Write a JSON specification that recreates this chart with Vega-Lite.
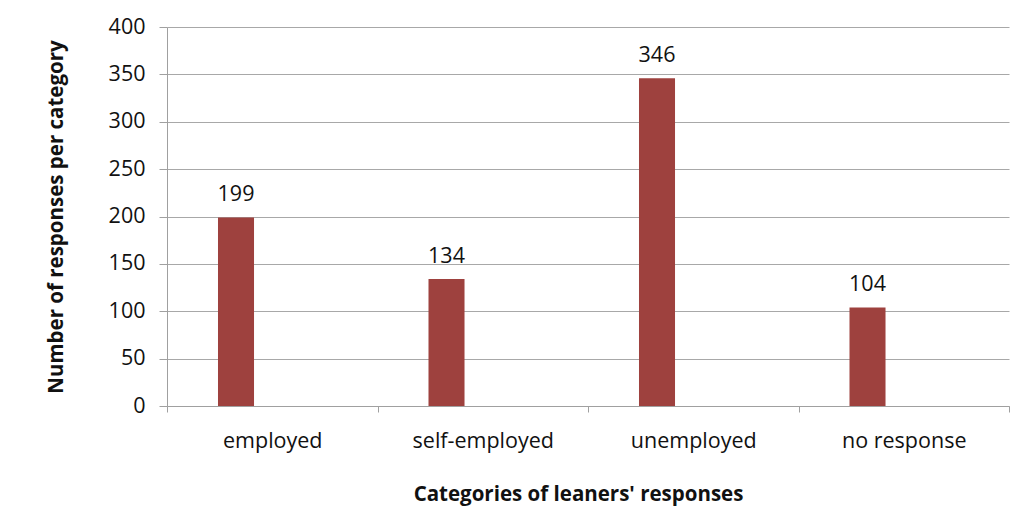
{
  "$schema": "https://vega.github.io/schema/vega-lite/v6.json",
  "width": 842,
  "height": 379,
  "autosize": {"type": "none"},
  "padding": {"left": 167, "top": 27, "right": 16, "bottom": 113},
  "background": "white",
  "data": {"values": [
    {"category": "employed", "count": 199, "series": "responses"},
    {"category": "self-employed", "count": 134, "series": "responses"},
    {"category": "unemployed", "count": 346, "series": "responses"},
    {"category": "no response", "count": 104, "series": "responses"}
  ]},
  "encoding": {
    "x": {
      "field": "category", "type": "nominal", "sort": null,
      "scale": {"paddingInner": 0, "paddingOuter": 0},
      "axis": {
        "title": "Categories of leaners' responses",
        "labelAngle": 0, "labelFont": "Open Sans", "labelFontSize": 21.5, "labelColor": "#111",
        "labelPadding": 18, "tickBand": "extent", "tickSize": 6, "tickColor": "#a0a0a0",
        "domainColor": "#a0a0a0", "titleFont": "Open Sans", "titleFontSize": 20.5, "titleFontWeight": "bold",
        "titleColor": "#111", "titlePadding": 33, "titleX": 411
      }
    },
    "xOffset": {
      "field": "series", "type": "nominal",
      "scale": {"domain": ["responses", "other"], "paddingInner": 0.503, "paddingOuter": 0.7035}
    },
    "y": {
      "field": "count", "type": "quantitative",
      "scale": {"domain": [0, 400]},
      "axis": {
        "title": "Number of responses per category", "values": [0,50,100,150,200,250,300,350,400],
        "labelFont": "Open Sans", "labelFontSize": 21.5, "labelColor": "#111", "labelPadding": 14,
        "tickSize": 8, "tickColor": "#a0a0a0", "domainColor": "#a0a0a0",
        "grid": true, "gridColor": "#a8a8a8", "gridWidth": 1,
        "titleFont": "Open Sans", "titleFontSize": 20.5, "titleFontWeight": "bold", "titleColor": "#111",
        "titlePadding": 42
      }
    }
  },
  "layer": [
    {"mark": {"type": "bar", "color": "#9E413E"}},
    {"mark": {"type": "text", "dy": -16, "font": "Open Sans", "fontSize": 21.5, "color": "#111", "baseline": "alphabetic"},
     "encoding": {"text": {"field": "count", "type": "quantitative"}}}
  ],
  "config": {"view": {"stroke": null}}
}
